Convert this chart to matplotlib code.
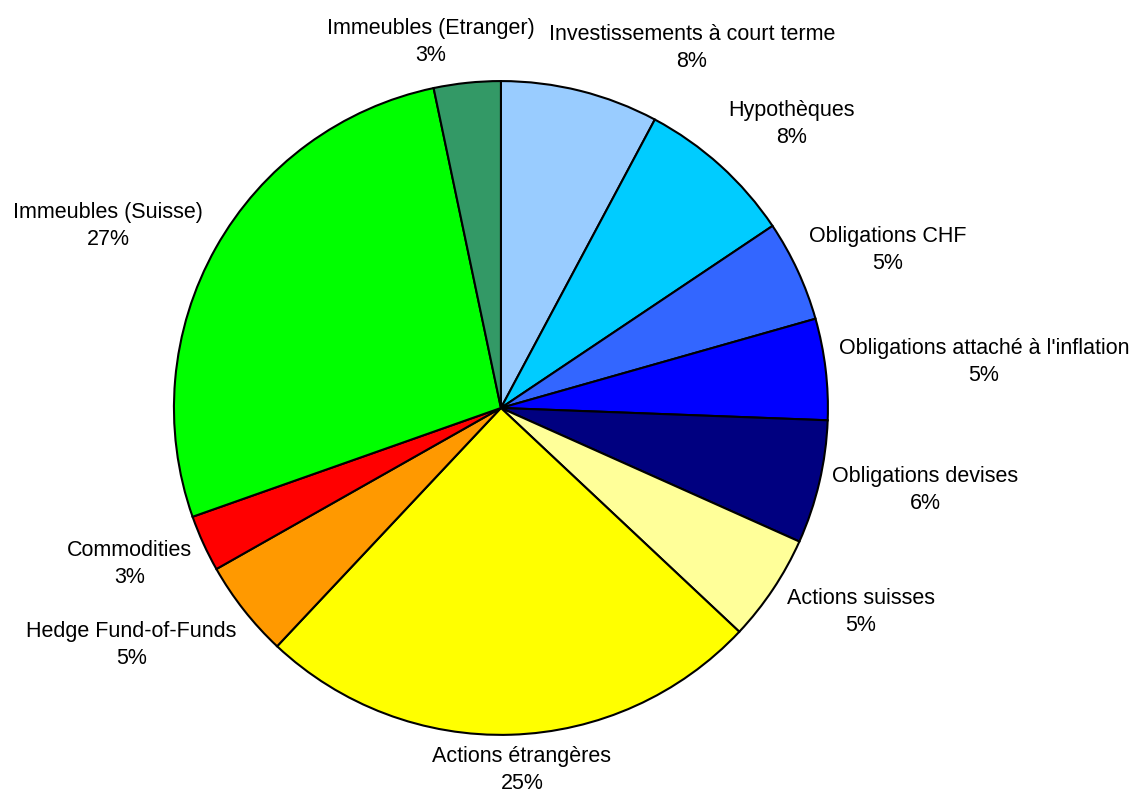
import matplotlib.pyplot as plt

plt.rcParams['font.family'] = ['Liberation Sans', 'DejaVu Sans']

# slices, clockwise from 12 o'clock
categories = ['Investissements à court terme', 'Hypothèques', 'Obligations CHF',
              "Obligations attaché à l'inflation", 'Obligations devises',
              'Actions suisses', 'Actions étrangères', 'Hedge Fund-of-Funds',
              'Commodities', 'Immeubles (Suisse)', 'Immeubles (Etranger)']
shares = [7.8, 7.8, 5.0, 5.0, 6.1, 5.3, 25.0, 4.8, 2.8, 27.1, 3.3]
colors = ['#99CCFF', '#00CCFF', '#3366FF', '#0000FF', '#000080', '#FFFF99',
          '#FFFF00', '#FF9900', '#FF0000', '#00FF00', '#339966']

# label centres, in units of the pie radius
label_pos = [(0.584, 1.101), (0.890, 0.869), (1.183, 0.483), (1.477, 0.141),
             (1.297, -0.251), (1.101, -0.624), (0.064, -1.108), (-1.131, -0.725),
             (-1.135, -0.477), (-1.202, 0.557), (-0.214, 1.119)]

fig = plt.figure(figsize=(11.32, 7.96), dpi=100)
ax = fig.add_axes([0, 0, 1, 1])

ax.pie(shares, colors=colors, startangle=90, counterclock=False, radius=1.0,
       wedgeprops=dict(edgecolor='black', linewidth=1.5))

total = sum(shares)
for name, val, (x, y) in zip(categories, shares, label_pos):
    ax.text(x, y, '%s\n%d%%' % (name, round(val / total * 100)),
            ha='center', va='center', multialignment='center',
            fontsize=15.5, linespacing=1.4)

ax.set_aspect('auto')
ax.set_xlim(-1.532, 1.930)
ax.set_ylim(-1.187, 1.248)
ax.axis('off')

fig.savefig('out.png', dpi=100, facecolor='white')
